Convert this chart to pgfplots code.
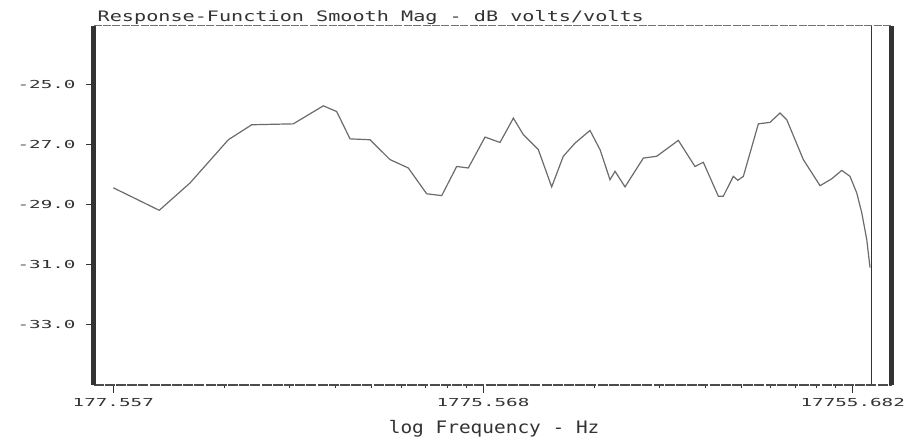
\documentclass[border=0pt]{standalone}
\usepackage{fontspec}
\usepackage{pgfplots}
\pgfplotsset{compat=1.18}
\newfontfamily\tickfont[FakeStretch=1.75]{DejaVu Sans Mono}
\newfontfamily\titlefont[FakeStretch=1.4]{DejaVu Sans Mono}
\newfontfamily\labelfont[FakeStretch=1.13]{DejaVu Sans Mono}
\definecolor{ink}{gray}{0.2}

\begin{document}
\begin{tikzpicture}
  \begin{axis}[
      scale only axis,
      width=399pt, height=179.5pt,
      xmode=log,
      xmin=156.97, xmax=22607,
      ymin=-35, ymax=-23.04,
      axis line style={draw=none},
      tick align=outside,
      xtick pos=bottom, ytick pos=left,
      xtick={177.557,1775.568,17755.682},
      xticklabels={177.557,1775.568,17755.682},
      minor xtick={355.114,532.671,710.228,887.785,1065.342,1242.899,1420.456,1598.013,
                   3551.136,5326.704,7102.272,8877.84,10653.408,12428.976,14204.544,15980.112},
      ytick={-25,-27,-29,-31,-33},
      yticklabels={-25.0,-27.0,-29.0,-31.0,-33.0},
      major tick length=3.8pt,
      minor tick length=1.7pt,
      every tick/.style={ink, line width=0.5pt},
      xticklabel style={font=\fontsize{5.5}{6}\tickfont, text=ink, inner sep=0pt, anchor=north, yshift=-2.7pt},
      yticklabel style={font=\fontsize{5.5}{6}\tickfont, text=ink, inner sep=0pt, anchor=east, xshift=-5pt},
      xlabel={log Frequency - Hz},
      xlabel style={font=\fontsize{8.6}{10}\labelfont, text=ink, inner sep=0pt,
                    at={(rel axis cs:0.502,0)}, anchor=base, yshift=-24.2pt},
      clip=false,
    ]
    % response curve
    \addplot[black!58, line width=0.6pt] coordinates {
      (177.6,-28.43) (236.4,-29.18) (286.3,-28.27) (363.5,-26.83) (420.4,-26.33)
      (544.8,-26.30) (656.7,-25.70) (713.8,-25.89) (775.6,-26.80) (878.4,-26.83)
      (994.7,-27.49) (1115,-27.77) (1250,-28.63) (1373,-28.69) (1507,-27.72)
      (1620,-27.77) (1798,-26.74) (1974,-26.92) (2145,-26.11) (2282,-26.66)
      (2506,-27.16) (2723,-28.40) (2927,-27.38) (3150,-26.94) (3457,-26.52)
      (3680,-27.16) (3916,-28.16) (4040,-27.88) (4299,-28.40) (4819,-27.44)
      (5237,-27.38) (5993,-26.85) (6647,-27.72) (7001,-27.58) (7688,-28.71)
      (7931,-28.71) (8440,-28.05) (8677,-28.18) (8984,-28.05) (9863,-26.30)
      (10607,-26.25) (11287,-25.94) (11770,-26.16) (13051,-27.49) (14484,-28.36)
      (15580,-28.13) (16584,-27.85) (17459,-28.05) (18202,-28.60) (18781,-29.26)
      (19374,-30.15) (19775,-31.09)
    };
    % cursor line
    \addplot[ink, line width=0.5pt] coordinates {(19987,-35) (19987,-23.04)};
    % frame
    \draw[black!55, line width=0.5pt, dash pattern=on 4pt off 0.7pt] (rel axis cs:0,1) -- (rel axis cs:1,1);
    \draw[black!70, line width=0.6pt, dash pattern=on 5pt off 0.6pt] (rel axis cs:0,0) -- (rel axis cs:1,0);
    \draw[black!80, line width=2.6pt] (rel axis cs:0,0) -- (rel axis cs:0,1);
    \draw[black!80, line width=2.6pt] (rel axis cs:1,0) -- (rel axis cs:1,1);
    % title
    \node[font=\fontsize{7.2}{8}\titlefont, text=ink, inner sep=0pt, anchor=base west]
      at ([xshift=1.9pt, yshift=2.2pt]rel axis cs:0,1) {Response-Function Smooth Mag - dB volts/volts};
    \coordinate (sw) at (rel axis cs:0,0);
  \end{axis}
  \pgfresetboundingbox
  \path[use as bounding box] (sw) ++(-46.75pt,-27pt) rectangle ++(459.5pt,219.5pt);
\end{tikzpicture}
\end{document}
